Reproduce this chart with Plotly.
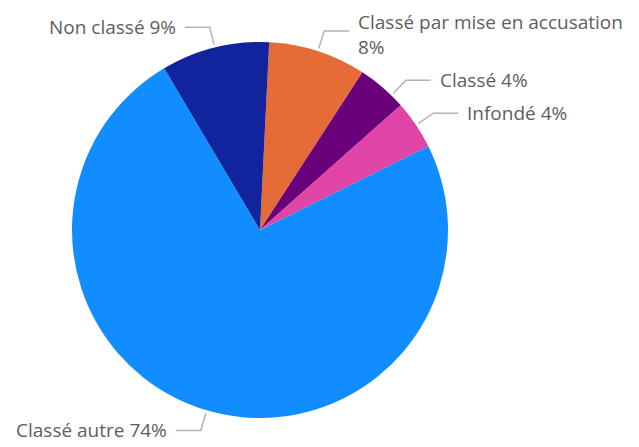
import math
import plotly.graph_objects as go

# ---- data ----
labels = ["Classé par mise en accusation", "Classé", "Infondé", "Classé autre", "Non classé"]
values = [8.4, 4.3, 4.2, 73.9, 9.3]
colors = ["#E66C37", "#6B007B", "#E044A7", "#118DFF", "#12239E"]

# ---- layout / style ----
OFF = 8                             # browser body margin
W, H = 639 - 2 * OFF, 447 - OFF
CX, CY, R = 260 - OFF, 230 - OFF, 188   # pie centre and radius in pixels
ROTATION = 2.8                      # degrees clockwise from 12 o'clock
R_START, R_ELBOW = R + 3, R + 21
HLEN, GAP = 25, 8
angle_nudge = {"Classé": 3.5}
text_yshift = {"Classé par mise en accusation": -3}
FONT = dict(family="Segoe UI, Open Sans, sans-serif", size=19, color="#605E5C")
LINE_COLOR = "#B3B3B3"

fig = go.Figure(go.Pie(
    labels=labels, values=values, sort=False, direction="clockwise",
    rotation=ROTATION, textinfo="none", hoverinfo="label+percent",
    marker=dict(colors=colors, line=dict(width=0)),
    domain=dict(x=[(CX - R) / W, (CX + R) / W], y=[(H - CY - R) / H, (H - CY + R) / H]),
    showlegend=False,
))

total = sum(values)
acc = 0.0
shapes, annotations = [], []
for lab, v in zip(labels, values):
    mid = ROTATION + (acc + v / 2) / total * 360 + angle_nudge.get(lab, 0)
    acc += v
    a = math.radians(mid)
    sx, sy = CX + R_START * math.sin(a), CY - R_START * math.cos(a)
    ex, ey = CX + R_ELBOW * math.sin(a), CY - R_ELBOW * math.cos(a)
    right = math.sin(a) >= 0
    hx = ex + HLEN if right else ex - HLEN
    tx = hx + GAP if right else hx - GAP
    pct = round(v / total * 100)
    text = f"{lab}<br>{pct}%" if len(lab) > 20 else f"{lab} {pct}%"
    shapes.append(dict(
        type="path", xref="paper", yref="paper",
        path=f"M {sx / W} {1 - sy / H} L {ex / W} {1 - ey / H} L {hx / W} {1 - ey / H}",
        line=dict(color=LINE_COLOR, width=1.5),
    ))
    annotations.append(dict(
        x=tx / W, y=1 - ey / H, xref="paper", yref="paper", text=text,
        showarrow=False, xanchor="left" if right else "right", yanchor="middle",
        yshift=text_yshift.get(lab, 0), borderpad=0,
        align="left", font=FONT,
    ))

fig.update_layout(
    width=W, height=H, margin=dict(l=0, r=0, t=0, b=0),
    paper_bgcolor="white", plot_bgcolor="white",
    shapes=shapes, annotations=annotations,
)
fig.write_html("out.html")
